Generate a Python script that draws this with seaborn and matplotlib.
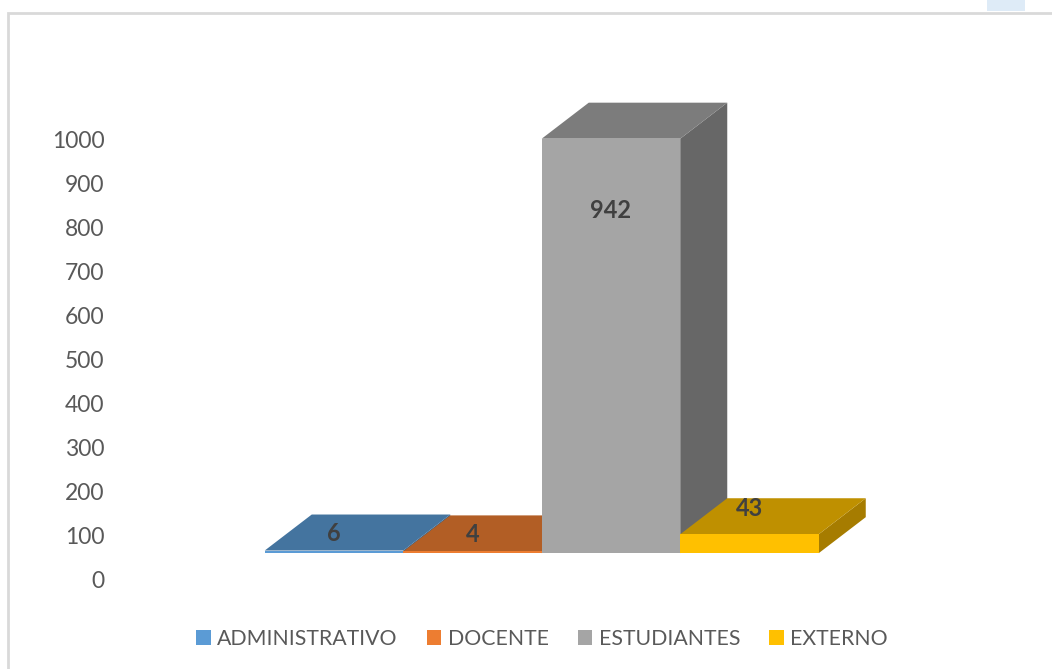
import matplotlib
matplotlib.use("Agg")
import matplotlib.pyplot as plt
import pandas as pd
import seaborn as sns
from matplotlib.patches import Polygon, Rectangle

# Values
categories = ["ADMINISTRATIVO", "DOCENTE", "ESTUDIANTES", "EXTERNO"]
values = [6, 4, 942, 43]
y_ticks = [0, 100, 200, 300, 400, 500, 600, 700, 800, 900, 1000]

# Colours for each face of the bars
front_colors = ["#5B9BD5", "#ED7D31", "#A5A5A5", "#FFC000"]
top_colors = ["#44749F", "#B25E25", "#7C7C7C", "#BF9000"]
side_colors = ["#376085", "#8F4B1D", "#676767", "#A67C00"]

W, H = 1052, 669
PX_PER_CAT = 138.5
PX_PER_UNIT = 0.44
BASE = 61  # the 3D floor sits above the axis zero
DEPTH_X = 47 / PX_PER_CAT
DEPTH_Y = 36 / PX_PER_UNIT

sns.set_theme(style="white")
plt.rcParams["font.family"] = ["Lato", "DejaVu Sans"]

df = pd.DataFrame({"category": categories, "value": values})

fig = plt.figure(figsize=(W / 100, H / 100), dpi=100)
ax = fig.add_axes([110 / W, (H - 610) / H, 930 / W, 550 / H])

sns.barplot(data=df, x="category", y="value", hue="category", hue_order=categories,
            palette=front_colors, dodge=False, width=1, bottom=BASE, saturation=1,
            linewidth=0, legend=False, ax=ax)

# Add the fake 3D faces on each bar
bars = [c[0] for c in ax.containers]
for i, bar in enumerate(bars):
    x0, x1 = bar.get_x(), bar.get_x() + bar.get_width()
    y0, y1 = bar.get_y(), bar.get_y() + bar.get_height()
    bar.set_zorder(3 + i * 3 + 2)
    side = Polygon([(x1, y0), (x1 + DEPTH_X, y0 + DEPTH_Y), (x1 + DEPTH_X, y1 + DEPTH_Y), (x1, y1)],
                   facecolor=side_colors[i], edgecolor="none", zorder=3 + i * 3)
    top = Polygon([(x0, y1), (x1, y1), (x1 + DEPTH_X, y1 + DEPTH_Y), (x0 + DEPTH_X, y1 + DEPTH_Y)],
                  facecolor=top_colors[i], edgecolor="none", zorder=3 + i * 3 + 1)
    ax.add_patch(side)
    ax.add_patch(top)

# Data labels
label_y = [105, 103, 839, 163]
for i, v in enumerate(values):
    ax.text(i, label_y[i], str(v), ha="center", va="center", fontsize=17,
            fontweight="bold", color="#404040", zorder=30)

ax.set_xlim((110 - 334) / PX_PER_CAT, (1040 - 334) / PX_PER_CAT)
ax.set_ylim((580 - 610) / PX_PER_UNIT, (580 - 60) / PX_PER_UNIT)
ax.set_yticks(y_ticks)
ax.tick_params(axis="y", length=0, pad=4, labelsize=16.5, labelcolor="#595959")
ax.tick_params(axis="x", length=0, labelbottom=False)
ax.set_xlabel("")
ax.set_ylabel("")
sns.despine(ax=ax, left=True, bottom=True)

ax.legend(bars, categories, loc="center", bbox_to_anchor=(542 / W, (H - 639) / H),
          bbox_transform=fig.transFigure, ncol=4, frameon=False, fontsize=15.3,
          labelcolor="#595959", handlelength=0.68, handleheight=0.68,
          handletextpad=0.3, columnspacing=1.37, borderpad=0)

# Frame of the pasted chart and the scrap of blue above it
fig.add_artist(Rectangle((8 / W, -0.1), 1.2, 0.1 + (H - 13) / H, transform=fig.transFigure,
                         facecolor="none", edgecolor="#D9D9D9", linewidth=2))
fig.add_artist(Rectangle((987 / W, (H - 11) / H), 38 / W, 11 / H, transform=fig.transFigure,
                         facecolor="#DEEBF7", edgecolor="none"))

fig.savefig("out.png", dpi=100)
